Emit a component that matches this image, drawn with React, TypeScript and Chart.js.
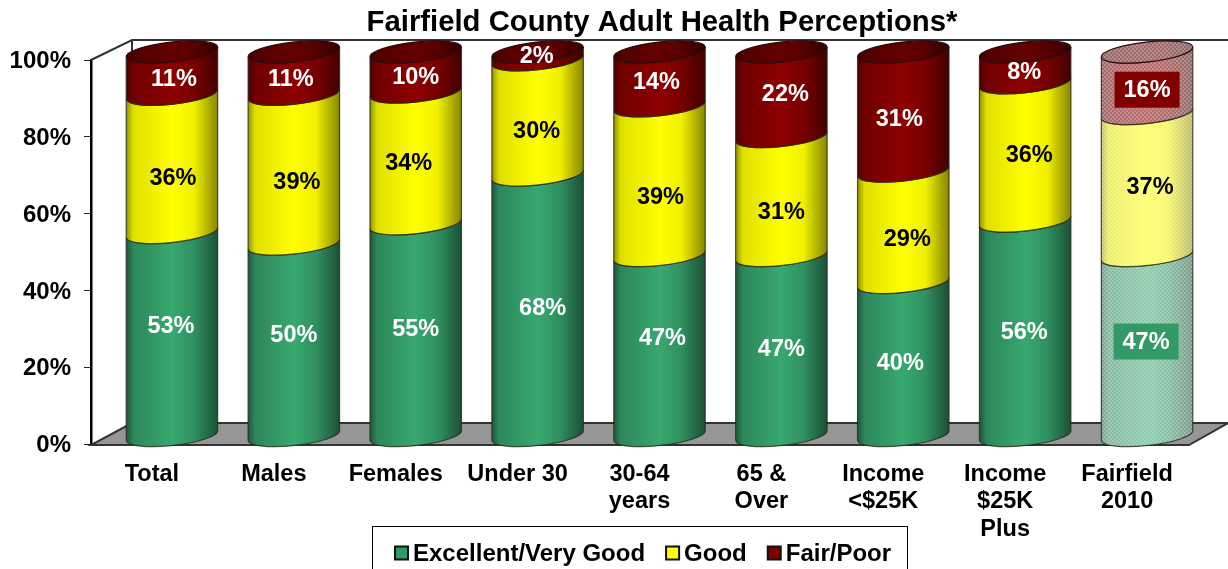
import React, { useEffect, useRef } from "react";
import { Chart, registerables } from "chart.js";

Chart.register(...registerables);

const categories = [
  "Total",
  "Males",
  "Females",
  "Under 30",
  ["30-64", "years"],
  ["65 &", "Over"],
  ["Income", "<$25K"],
  ["Income", "$25K", "Plus"],
  ["Fairfield", "2010"],
];

const excellentVeryGood = [53, 50, 55.3, 68, 47, 47, 40, 56, 47];
const good = [36, 39, 34.3, 30, 39, 31, 29, 36, 37];
const fairPoor = [11, 11, 10.4, 2, 14, 22, 31, 8, 16];

const seriesNames = ["Excellent/Very Good", "Good", "Fair/Poor"];
const seriesColors = ["#339966", "#FFFF00", "#800000"];
const labelColors = ["#FFFFFF", "#000000", "#FFFFFF"];

const titleText = "Fairfield County Adult Health Perceptions*";
const highlightedCategory = 8;

// Hand-placed data label nudges [dx, dy], per series and category
const labelNudges = [
  [[-1, -16], [0, -13], [0, -9], [5, -6], [3, -16], [0, -5], [-3, -4], [-1, -5], [-1, -12]],
  [[1, 6], [3, 4], [-7, -3], [-1, 5], [1, 8], [0, 8], [4, 4], [4, -5], [3, -6]],
  [[2, -3], [-3, -3], [0, -3], [-1, -8], [-3, -5], [4, -9], [-4, -1], [-1, -4], [0, -1]],
];

const FONT = '"Liberation Sans", Arial, sans-serif';
const DEPTH_X = 20;
const ELLIPSE_RY = 10;
const ELLIPSE_ROT = -0.11;
const ELLIPSE_LIFT = 8;

function shade(hex: string, f: number) {
  const n = parseInt(hex.slice(1), 16);
  const c = (v: number) => Math.max(0, Math.min(255, Math.round(v * f)));
  return `rgb(${c((n >> 16) & 255)},${c((n >> 8) & 255)},${c(n & 255)})`;
}

function bodyGradient(ctx: CanvasRenderingContext2D, x0: number, x1: number, hex: string, k = 1) {
  const g = ctx.createLinearGradient(x0, 0, x1, 0);
  const stops = [[0, 0.56], [0.08, 0.88], [0.5, 1.1], [0.74, 0.94], [1, 0.52]];
  stops.forEach(([p, f]) => g.addColorStop(p, shade(hex, f * k)));
  return g;
}

function checkerPattern(ctx: CanvasRenderingContext2D) {
  const tile = document.createElement("canvas");
  tile.width = 4;
  tile.height = 4;
  const t = tile.getContext("2d")!;
  t.fillStyle = "rgba(255,255,255,0.22)";
  t.fillRect(0, 0, 2, 2);
  t.fillRect(2, 2, 2, 2);
  return ctx.createPattern(tile, "repeat")!;
}

const cylinderPlugin = {
  id: "cylinders",
  afterLayout(chart: any) {
    chart.titleBlock.left = 96;
    chart.titleBlock.right = 1228;
  },
  beforeDatasetsDraw(chart: any) {
    const { ctx, chartArea: a, width } = chart;
    const depthX = 41;
    const depthY = 21;
    ctx.save();
    // floor
    ctx.beginPath();
    ctx.moveTo(a.left, a.bottom + 1);
    ctx.lineTo(a.right + 1, a.bottom + 1);
    ctx.lineTo(a.right + 1 + 39, a.bottom - depthY);
    ctx.lineTo(a.left + depthX, a.bottom - depthY);
    ctx.closePath();
    ctx.fillStyle = "#969696";
    ctx.fill();
    ctx.strokeStyle = "#333333";
    ctx.lineWidth = 2;
    ctx.stroke();
    // back wall outline
    ctx.strokeStyle = "#333333";
    ctx.lineWidth = 2;
    ctx.beginPath();
    ctx.moveTo(a.left, a.top);
    ctx.lineTo(a.left + depthX, a.top - 20);
    ctx.lineTo(width, a.top - 20);
    ctx.moveTo(a.left + depthX, a.top - 20);
    ctx.lineTo(a.left + depthX, a.bottom - depthY);
    ctx.stroke();
    ctx.restore();
  },
  beforeDatasetDraw() {
    return false;
  },
  afterDatasetsDraw(chart: any) {
    const { ctx } = chart;
    const datasets = chart.data.datasets;
    const pattern = checkerPattern(ctx);
    ctx.save();
    categories.forEach((_, i) => {
      datasets.forEach((ds: any, d: number) => {
        const bar = chart.getDatasetMeta(d).data[i];
        const cx = bar.x + DEPTH_X;
        const rx = bar.width / 2;
        const x0 = cx - rx;
        const x1 = cx + rx;
        const yTop = bar.y - ELLIPSE_LIFT;
        const yBot = bar.base - ELLIPSE_LIFT;
        const soft = i === highlightedCategory;
        const hex = ds.backgroundColor;

        const overlay = () => {
          if (!soft) return;
          ctx.fillStyle = "rgba(255,255,255,0.42)";
          ctx.fill();
          ctx.fillStyle = pattern;
          ctx.fill();
        };

        ctx.beginPath();
        ctx.ellipse(cx, yBot, rx, ELLIPSE_RY, ELLIPSE_ROT, 0, Math.PI, false);
        ctx.ellipse(cx, yTop, rx, ELLIPSE_RY, ELLIPSE_ROT, Math.PI, 0, true);
        ctx.closePath();
        ctx.fillStyle = bodyGradient(ctx, x0, x1, hex);
        ctx.fill();
        overlay();

        ctx.strokeStyle = "rgba(40,40,30,0.8)";
        ctx.lineWidth = 1.2;
        ctx.beginPath();
        ctx.ellipse(cx, yBot, rx, ELLIPSE_RY, ELLIPSE_ROT, 0, Math.PI, false);
        ctx.ellipse(cx, yTop, rx, ELLIPSE_RY, ELLIPSE_ROT, Math.PI, 0, true);
        ctx.closePath();
        ctx.stroke();

        if (d === datasets.length - 1) {
          ctx.beginPath();
          ctx.ellipse(cx, yTop, rx, ELLIPSE_RY, ELLIPSE_ROT, 0, Math.PI * 2);
          ctx.closePath();
          ctx.fillStyle = bodyGradient(ctx, x0, x1, hex, 0.72);
          ctx.fill();
          overlay();
          ctx.strokeStyle = "#2a0a0a";
          ctx.stroke();
        }
      });
    });

    // data labels
    ctx.font = `bold 23.5px ${FONT}`;
    ctx.textAlign = "center";
    ctx.textBaseline = "middle";
    categories.forEach((_, i) => {
      datasets.forEach((ds: any, d: number) => {
        const bar = chart.getDatasetMeta(d).data[i];
        const value = ds.data[i];
        const [dx, dy] = labelNudges[d][i];
        const x = bar.x + DEPTH_X + dx;
        const y = (bar.y + bar.base) / 2 + dy;
        if (i === highlightedCategory && d !== 1) {
          ctx.fillStyle = ds.backgroundColor;
          ctx.fillRect(x - 32.5, y - 18, 65, 36);
        }
        ctx.fillStyle = labelColors[d];
        ctx.fillText(`${Math.round(value)}%`, x, y + 1);
      });
    });

    // legend
    ctx.strokeStyle = "#000000";
    ctx.lineWidth = 1;
    ctx.strokeRect(372.5, 526.5, 535, 60);
    ctx.font = `bold 24px ${FONT}`;
    ctx.textAlign = "left";
    let x = 395;
    const yMid = 553;
    seriesNames.forEach((name, d) => {
      ctx.fillStyle = seriesColors[d];
      ctx.fillRect(x, yMid - 6.5, 13, 13);
      ctx.lineWidth = 2;
      ctx.strokeStyle = "#111111";
      ctx.strokeRect(x, yMid - 6.5, 13, 13);
      ctx.fillStyle = "#000000";
      ctx.fillText(name, x + 18, yMid + 1);
      x += 18 + ctx.measureText(name).width + 21;
    });
    ctx.restore();
  },
};

export default function App() {
  const ref = useRef<HTMLCanvasElement>(null);
  useEffect(() => {
    const values = [excellentVeryGood, good, fairPoor];
    const chart = new Chart(ref.current!, {
      type: "bar",
      data: {
        labels: categories as any,
        datasets: seriesNames.map((label, d) => ({
          label,
          data: values[d],
          backgroundColor: seriesColors[d],
          barPercentage: 0.755,
          categoryPercentage: 1,
        })),
      },
      options: {
        responsive: false,
        animation: false,
        devicePixelRatio: 1,
        layout: { padding: { left: 0, right: 40, top: 0, bottom: 0 } },
        plugins: {
          legend: { display: false },
          tooltip: { enabled: false },
          title: {
            display: true,
            text: titleText,
            color: "#000000",
            font: { family: FONT, size: 29.3, weight: "bold", lineHeight: 1.2 },
            padding: { top: 5, bottom: 19.84 },
          },
        },
        scales: {
          x: {
            stacked: true,
            afterFit: (s: any) => {
              s.height = 125;
            },
            border: { display: false },
            grid: { display: false, drawTicks: false },
            ticks: {
              color: "#000000",
              font: { family: FONT, size: 23.5, weight: "bold", lineHeight: 1.16 },
              padding: 17,
              maxRotation: 0,
              minRotation: 0,
              autoSkip: false,
            },
          },
          y: {
            stacked: true,
            min: 0,
            max: 100,
            afterFit: (s: any) => {
              s.width = 91;
            },
            border: { display: true, color: "#000000", width: 2.5 },
            grid: { drawOnChartArea: false, drawTicks: true, tickLength: 7, color: "#222222", lineWidth: 1 },
            ticks: {
              stepSize: 20,
              color: "#000000",
              font: { family: FONT, size: 24, weight: "bold" },
              padding: 13,
              labelOffset: 1.5,
              callback: (v: any) => `${v}%`,
            },
          },
        },
      },
      plugins: [cylinderPlugin],
    } as any);
    return () => chart.destroy();
  }, []);
  return (
    <div style={{ position: "fixed", left: 0, top: 0, width: 1228, height: 569, background: "#fff" }}>
      <canvas ref={ref} width={1228} height={569} style={{ display: "block" }} />
    </div>
  );
}
